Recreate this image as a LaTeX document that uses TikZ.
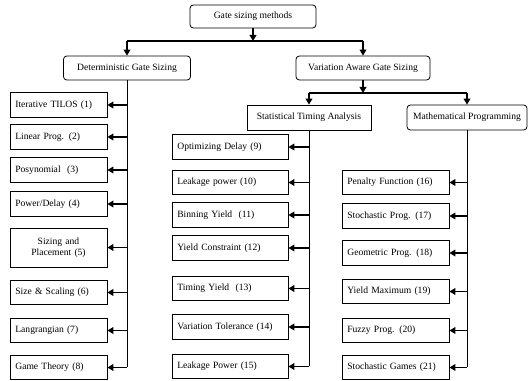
\documentclass[tikz,border=0pt]{standalone}
\usepackage{fontspec}
\setmainfont{Liberation Serif}
\usetikzlibrary{arrows.meta}

\tikzset{
    headbox/.style={draw, line width=0.6pt, rounded corners=2.5pt, inner sep=0pt, font=\fontsize{7.2}{8.4}\selectfont},
    leafbox/.style={draw, line width=0.6pt, minimum height=18.4pt, inner xsep=4pt, inner ysep=0pt, text width=#1, align=left, font=\fontsize{7.2}{8.4}\selectfont},
    conn/.style={line width=1.4pt, -{Triangle[length=4.5pt,width=5pt]}},
    bar/.style={line width=1.4pt},
    spine/.style={line width=0.6pt},
}

\begin{document}
\begin{tikzpicture}[x=0.75pt,y=0.75pt,yscale=-1,xscale=1]
    \useasboundingbox (0,0) rectangle (529,381);

    % Head Nodes
    \node [headbox, minimum width=94.5pt, minimum height=17.25pt] (gsm) at (253,16.5) {Gate sizing methods};
    \node [headbox, minimum width=95.25pt, minimum height=18pt] (dgs) at (127,68) {Deterministic Gate Sizing};
    \node [headbox, minimum width=100.5pt, minimum height=18pt] (vags) at (363,68) {Variation Aware Gate Sizing};
    \node [headbox, rounded corners=0pt, minimum width=93pt, minimum height=18.75pt] (sta) at (309,117.5) {Statistical Timing Analysis};
    \node [headbox, minimum width=90pt, minimum height=18.75pt] (mp) at (467,117.5) {Mathematical Programming};

    % Junctions
    \coordinate (j1) at (253,41);
    \coordinate (j2) at (363,93);

    %Top Connectors
    \draw [conn] (gsm.south) -- (j1);
    \draw [bar] (dgs.north |- j1) -- (vags.north |- j1);
    \draw [conn] (dgs.north |- j1) -- (dgs.north);
    \draw [conn] (vags.north |- j1) -- (vags.north);
    \draw [conn] (vags.south) -- (j2);
    \draw [bar] (sta.north |- j2) -- (mp.north |- j2);
    \draw [conn] (sta.north |- j2) -- (sta.north);
    \draw [conn] (mp.north |- j2) -- (mp.north);

    % Deterministic Leaves
    \node [leafbox=64.75pt] (l1) at (58.5,105) {Iterative TILOS (1)};
    \node [leafbox=64.75pt] (l2) at (58.5,137) {Linear Prog. (2)};
    \node [leafbox=64.75pt] (l3) at (58.5,170) {Posynomial\ \ (3)};
    \node [leafbox=64.75pt] (l4) at (58.5,204) {Power/Delay (4)};
    \node [leafbox=64.75pt, align=center, minimum height=29.25pt] (l5) at (58.5,247.5) {Sizing and\\Placement (5)};
    \node [leafbox=64.75pt] (l6) at (58.5,292.5) {Size \& Scaling (6)};
    \node [leafbox=64.75pt] (l7) at (58.5,330.5) {Langrangian (7)};
    \node [leafbox=64.75pt] (l8) at (58.5,367.5) {Game Theory (8)};

    % Statistical Leaves
    \node [leafbox=79pt] (s9) at (230,147) {Optimizing Delay (9)};
    \node [leafbox=79pt] (s10) at (230,182.5) {Leakage power (10)};
    \node [leafbox=79pt] (s11) at (230,215) {Binning Yield\ \ (11)};
    \node [leafbox=79pt] (s12) at (230,248) {Yield Constraint (12)};
    \node [leafbox=79pt] (s13) at (230,288.5) {Timing Yield\ \ (13)};
    \node [leafbox=79pt] (s14) at (230,327) {Variation Tolerance (14)};
    \node [leafbox=79pt] (s15) at (230,366.5) {Leakage Power (15)};

    % Mathematical Leaves
    \node [leafbox=72.25pt] (m16) at (395.5,182.5) {Penalty Function (16)};
    \node [leafbox=72.25pt] (m17) at (395.5,216) {Stochastic Prog. (17)};
    \node [leafbox=72.25pt] (m18) at (395.5,253) {Geometric Prog. (18)};
    \node [leafbox=72.25pt] (m19) at (395.5,291.5) {Yield Maximum (19)};
    \node [leafbox=72.25pt] (m20) at (395.5,330.5) {Fuzzy Prog. (20)};
    \node [leafbox=72.25pt] (m21) at (395.5,367.5) {Stochastic Games (21)};

    % Spines
    \draw [spine] (dgs.south) -- (dgs.south |- l8.east);
    \draw [spine] (sta.south) -- (sta.south |- s15.east);
    \draw [spine] (mp.south) -- (mp.south |- m21.east);

    % Leaf Connectors
    \draw [conn] (dgs.south |- l1.east) -- (l1.east);
    \draw [conn] (dgs.south |- l2.east) -- (l2.east);
    \draw [conn] (dgs.south |- l3.east) -- (l3.east);
    \draw [conn] (dgs.south |- l4.east) -- (l4.east);
    \draw [conn] (dgs.south |- l5.east) -- (l5.east);
    \draw [conn] (dgs.south |- l6.east) -- (l6.east);
    \draw [conn] (dgs.south |- l7.east) -- (l7.east);
    \draw [conn] (dgs.south |- l8.east) -- (l8.east);

    \draw [conn] (sta.south |- s9.east) -- (s9.east);
    \draw [conn] (sta.south |- s10.east) -- (s10.east);
    \draw [conn] (sta.south |- s11.east) -- (s11.east);
    \draw [conn] (sta.south |- s12.east) -- (s12.east);
    \draw [conn] (sta.south |- s13.east) -- (s13.east);
    \draw [conn] (sta.south |- s14.east) -- (s14.east);
    \draw [conn] (sta.south |- s15.east) -- (s15.east);

    \draw [conn] (mp.south |- m16.east) -- (m16.east);
    \draw [conn] (mp.south |- m17.east) -- (m17.east);
    \draw [conn] (mp.south |- m18.east) -- (m18.east);
    \draw [conn] (mp.south |- m19.east) -- (m19.east);
    \draw [conn] (mp.south |- m20.east) -- (m20.east);
    \draw [conn] (mp.south |- m21.east) -- (m21.east);

\end{tikzpicture}
\end{document}
